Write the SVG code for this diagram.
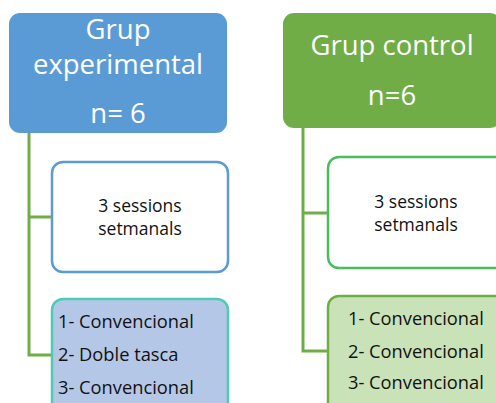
<svg xmlns="http://www.w3.org/2000/svg" width="496" height="403" viewBox="0 0 496 403">
<style>
.h{font-family:"Open Sans","Liberation Sans",sans-serif;font-size:27.5px;fill:#ffffff;text-anchor:middle}
.s{font-family:"Open Sans","Liberation Sans",sans-serif;font-size:17.5px;fill:#111111;text-anchor:middle}
.l{font-family:"Open Sans","Liberation Sans",sans-serif;font-size:18.3px;fill:#111111}
.c{fill:none;stroke:#70AD47;stroke-width:3}
</style>
<g id="connectors">
<polyline class="c" points="29,132 29,355 52,355"/>
<line class="c" x1="29" y1="217" x2="52" y2="217"/>
<polyline class="c" points="303,128 303,351 327,351"/>
<line class="c" x1="303" y1="213" x2="327" y2="213"/>
</g>
<g id="grup-experimental">
<rect x="9" y="13" width="218" height="120" rx="11" fill="#5B9BD5"/>
<text class="h" x="118" y="39">Grup</text>
<text class="h" x="118" y="74">experimental</text>
<text class="h" x="118" y="123">n= 6</text>
</g>
<g id="grup-control">
<rect x="283" y="13" width="218" height="115" rx="11" fill="#70AD47"/>
<text class="h" x="392" y="55">Grup control</text>
<text class="h" x="392" y="105">n=6</text>
</g>
<g id="sessions-exp">
<rect x="52" y="162" width="176" height="110" rx="11" fill="#ffffff" stroke="#5B9BD5" stroke-width="2.5"/>
<text class="s" x="140" y="212">3 sessions</text>
<text class="s" x="140" y="235">setmanals</text>
</g>
<g id="sessions-ctrl">
<rect x="328" y="157" width="178" height="111" rx="11" fill="#ffffff" stroke="#4CBB5C" stroke-width="2.5"/>
<text class="s" x="416" y="208">3 sessions</text>
<text class="s" x="416" y="231">setmanals</text>
</g>
<g id="llista-exp">
<rect x="52" y="299" width="176" height="120" rx="11" fill="#B4C7E7" stroke="#4FCBB5" stroke-width="2.5"/>
<text class="l" x="58" y="328">1- Convencional</text>
<text class="l" x="58" y="361">2- Doble tasca</text>
<text class="l" x="58" y="394">3- Convencional</text>
</g>
<g id="llista-ctrl">
<rect x="328" y="296" width="178" height="120" rx="11" fill="#C9E2B8" stroke="#70AD47" stroke-width="2.5"/>
<text class="l" x="348" y="325">1- Convencional</text>
<text class="l" x="348" y="358">2- Convencional</text>
<text class="l" x="348" y="389">3- Convencional</text>
</g>
</svg>
